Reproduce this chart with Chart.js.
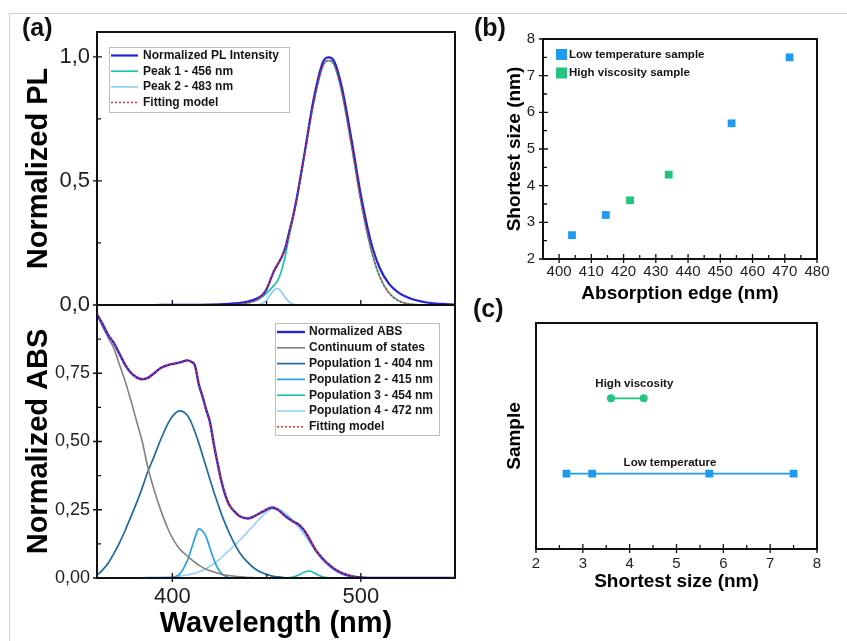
<!DOCTYPE html>
<html>
<head>
<meta charset="utf-8">
<script src="https://cdn.jsdelivr.net/npm/chart.js@4.4.0/dist/chart.umd.min.js"></script>
<style>
  body { margin: 0; width: 847px; height: 641px; overflow: hidden; background: #fff;
         font-family: 'Liberation Sans', Arial, sans-serif; }
  canvas { position: absolute; left: 0; top: 0; }
  .frame { position: absolute; left: 9px; top: 13px; width: 850px; height: 640px;
           border-top: 1px solid #cfcfcf; border-left: 1px solid #cfcfcf; }
  .tag { position: absolute; font-weight: bold; font-size: 25px; line-height: 1; color: #111; }
</style>
</head>
<body>
<div class="frame"></div>
<canvas id="plChart" width="847" height="641"></canvas>
<canvas id="absChart" width="847" height="641"></canvas>
<canvas id="edgeChart" width="847" height="641"></canvas>
<canvas id="sizeChart" width="847" height="641"></canvas>
<div class="tag" style="left:22px;top:15px">(a)</div>
<div class="tag" style="left:474px;top:15px">(b)</div>
<div class="tag" style="left:473px;top:296px">(c)</div>
<script>
// ---- (a) top: PL spectrum ----
const wlPL = [360, 370, 380, 390, 400, 410, 420, 425, 430, 435,
              440, 445, 448, 450, 452, 454, 456, 458, 460, 462,
              464, 466, 470, 475, 480, 483, 486, 490, 495, 500,
              505, 510, 515, 520, 525, 530, 535, 540, 545, 550];
const plIntensity = [0, 0, 0, 0, 0.001, 0.001, 0.002, 0.003, 0.005, 0.008,
                     0.014, 0.026, 0.042, 0.064, 0.1, 0.138, 0.165, 0.193, 0.232, 0.295,
                     0.356, 0.43, 0.605, 0.83, 0.98, 0.998, 0.98, 0.875, 0.67, 0.445,
                     0.265, 0.15, 0.085, 0.05, 0.03, 0.018, 0.01, 0.006, 0.004, 0.002];
const plPeak1 = [0, 0, 0, 0, 0, 0, 0, 0, 0.001, 0.003,
                 0.008, 0.02, 0.035, 0.048, 0.063, 0.08, 0.1, 0.14, 0.2, 0.28,
                 0.35, 0.425, 0.6, 0.815, 0.965, 0.985, 0.965, 0.855, 0.645, 0.42,
                 0.237, 0.115, 0.048, 0.017, 0.005, 0.001, 0, 0, 0, 0];
const plPeak2 = [0, 0, 0, 0, 0, 0, 0, 0, 0, 0,
                 0, 0.001, 0.007, 0.019, 0.041, 0.061, 0.066, 0.052, 0.029, 0.012,
                 0.004, 0.001, 0, 0, 0, 0, 0, 0, 0, 0,
                 0, 0, 0, 0, 0, 0, 0, 0, 0, 0];
const plFit = [0, 0, 0, 0, 0, 0, 0, 0, 0.001, 0.003,
               0.008, 0.021, 0.042, 0.067, 0.104, 0.141, 0.166, 0.192, 0.229, 0.292,
               0.354, 0.426, 0.6, 0.815, 0.965, 0.985, 0.965, 0.855, 0.645, 0.42,
               0.237, 0.115, 0.048, 0.017, 0.005, 0.001, 0, 0, 0, 0];
const plYTicks = [0, 0.5, 1.0];
const plYMinor = [0.25, 0.75];

// ---- (a) bottom: absorption spectrum ----
const wlAbs = [360, 363, 366, 369, 372, 375, 378, 381, 384, 387, 390,
               394, 398, 401, 404, 408,
               410, 412, 414, 416, 418, 420, 422, 424, 426, 428, 430,
               433, 436, 440, 444, 448, 453, 456, 460, 464, 467, 470, 473, 476, 479, 482, 486, 490, 495, 500,
               510, 520, 530, 540, 550];
const absNorm = [0.965, 0.93, 0.89, 0.86, 0.82, 0.78, 0.752, 0.735, 0.728, 0.733, 0.748,
                 0.77, 0.781, 0.785, 0.79, 0.797,
                 0.792, 0.778, 0.71, 0.665, 0.615, 0.57, 0.49, 0.42, 0.355, 0.305, 0.27,
                 0.243, 0.225, 0.218, 0.228, 0.243, 0.258, 0.25, 0.226, 0.207, 0.196, 0.174, 0.14, 0.103, 0.077, 0.055, 0.033, 0.018, 0.007, 0.002,
                 0, 0, 0, 0, 0];
const absContinuum = [0.965, 0.92, 0.88, 0.84, 0.78, 0.72, 0.65, 0.575, 0.5, 0.405, 0.33,
                      0.245, 0.175, 0.135, 0.105, 0.08,
                      0.068, 0.057, 0.047, 0.039, 0.032, 0.027, 0.022, 0.018, 0.014, 0.011, 0.009,
                      0.006, 0.004, 0.002, 0.001, 0, 0, 0, 0, 0, 0, 0, 0, 0, 0, 0, 0, 0, 0, 0,
                      0, 0, 0, 0, 0];
const absPop1 = [0.01, 0.03, 0.055, 0.09, 0.13, 0.175, 0.225, 0.275, 0.33, 0.39, 0.44,
                 0.51, 0.57, 0.6, 0.612, 0.595,
                 0.57, 0.535, 0.495, 0.45, 0.405, 0.36, 0.315, 0.275, 0.235, 0.2, 0.168,
                 0.125, 0.09, 0.057, 0.033, 0.018, 0.007, 0.004, 0.001, 0, 0, 0, 0, 0, 0, 0, 0, 0, 0, 0,
                 0, 0, 0, 0, 0];
const absPop2 = [0, 0, 0, 0, 0, 0, 0, 0, 0, 0, 0,
                 0, 0, 0.003, 0.015, 0.065,
                 0.105, 0.148, 0.18, 0.172, 0.15, 0.108, 0.068, 0.037, 0.017, 0.007, 0.002,
                 0, 0, 0, 0, 0, 0, 0, 0, 0, 0, 0, 0, 0, 0, 0, 0, 0, 0, 0,
                 0, 0, 0, 0, 0];
const absPop3 = [0, 0, 0, 0, 0, 0, 0, 0, 0, 0, 0,
                 0, 0, 0, 0, 0,
                 0, 0, 0, 0, 0, 0, 0, 0, 0, 0, 0,
                 0, 0, 0, 0, 0, 0, 0, 0, 0.003, 0.011, 0.022, 0.025, 0.016, 0.006, 0.0015, 0, 0, 0, 0,
                 0, 0, 0, 0, 0];
const absPop4 = [0, 0, 0, 0, 0, 0, 0, 0.001, 0.001, 0.002, 0.002,
                 0.003, 0.004, 0.005, 0.007, 0.011,
                 0.014, 0.018, 0.022, 0.028, 0.035, 0.043, 0.052, 0.063, 0.075, 0.088, 0.1,
                 0.12, 0.14, 0.17, 0.2, 0.228, 0.252, 0.252, 0.237, 0.21, 0.186, 0.158, 0.13, 0.098, 0.072, 0.05, 0.028, 0.013, 0.004, 0.001,
                 0, 0, 0, 0, 0];
const absFit = [0.963, 0.93, 0.89, 0.858, 0.82, 0.78, 0.752, 0.735, 0.729, 0.733, 0.747,
                0.77, 0.781, 0.786, 0.79, 0.796,
                0.791, 0.776, 0.712, 0.664, 0.617, 0.568, 0.492, 0.42, 0.356, 0.305, 0.27,
                0.243, 0.226, 0.219, 0.229, 0.244, 0.257, 0.25, 0.226, 0.207, 0.196, 0.174, 0.14, 0.104, 0.077, 0.055, 0.033, 0.018, 0.007, 0.002,
                0, 0, 0, 0, 0];
const absYTicks = [0, 0.25, 0.5, 0.75];
const absYMinor = [0.125, 0.375, 0.625, 0.875];
const wlTicks = [400, 500];
const wlMinor = [450];

// ---- (b) shortest size vs absorption edge ----
const lowTempEdge = [404, 414.5, 453.5, 471.5];
const lowTempSize = [2.65, 3.2, 5.7, 7.5];
const highViscEdge = [422, 434];
const highViscSize = [3.6, 4.3];
const edgeTicks = [400, 410, 420, 430, 440, 450, 460, 470, 480];
const edgeMinor = [405, 415, 425, 435, 445, 455, 465, 475];
const sizeTicks = [2, 3, 4, 5, 6, 7, 8];
const sizeMinor = [2.5, 3.5, 4.5, 5.5, 6.5, 7.5];

// ---- (c) sample rows ----
const sampleRows = ['', 'High viscosity', 'Low temperature', ''];

const FONT = "'Liberation Sans', Arial, sans-serif";
const BLUE_PT = '#1e9af0';
const GREEN_PT = '#22c47f';

Chart.defaults.font.family = FONT;
Chart.defaults.color = '#1e1e1e';

const pts = (xs, ys) => xs.map((x, i) => ({ x, y: ys[i] }));
const fixedWidth = w => s => { s.width = w; };
const fixedHeight = h => s => { s.height = h; };
const setTicks = list => s => { s.ticks = list.map(v => ({ value: v })); };
const comma = d => v => v.toFixed(d).replace('.', ',');

// box around the plot area plus small ticks, drawn above the curves
const frameTicks = {
  id: 'frameTicks',
  afterDatasetsDraw(chart, args, o) {
    const { ctx, chartArea: a } = chart;
    const sx = chart.scales.x, sy = chart.scales.y;
    const out = o.out === undefined ? 4 : o.out;
    ctx.save();
    ctx.strokeStyle = '#111';
    ctx.lineWidth = 1.3;
    ctx.beginPath();
    (o.xMajor || []).forEach(v => {
      const p = sx.getPixelForValue(v);
      ctx.moveTo(p, a.bottom + out); ctx.lineTo(p, a.bottom - 5);
    });
    (o.xMinor || []).forEach(v => {
      const p = sx.getPixelForValue(v);
      ctx.moveTo(p, a.bottom); ctx.lineTo(p, a.bottom - 4);
    });
    (o.yMajor || []).forEach(v => {
      const p = sy.getPixelForValue(v);
      ctx.moveTo(a.left - 4, p); ctx.lineTo(a.left + 5, p);
    });
    (o.yMinor || []).forEach(v => {
      const p = sy.getPixelForValue(v);
      ctx.moveTo(a.left, p); ctx.lineTo(a.left + 4, p);
    });
    ctx.stroke();
    ctx.lineWidth = 2;
    ctx.strokeRect(a.left, a.top, a.right - a.left, a.bottom - a.top);
    ctx.restore();
  }
};

// legend drawn inside the plot area
const insideLegend = {
  id: 'insideLegend',
  afterDraw(chart, args, o) {
    if (o.x === undefined) return;
    const ctx = chart.ctx;
    ctx.save();
    if (o.box) {
      ctx.fillStyle = '#fff';
      ctx.fillRect(o.x, o.y, o.w, o.h);
      ctx.strokeStyle = '#bdbdbd';
      ctx.lineWidth = 1;
      ctx.strokeRect(o.x + 0.5, o.y + 0.5, o.w, o.h);
    }
    ctx.font = 'bold ' + o.size + 'px ' + FONT;
    ctx.textBaseline = 'middle';
    chart.data.datasets.forEach((ds, i) => {
      const y = o.row0 + i * o.rowH;
      if (o.square) {
        ctx.fillStyle = ds.backgroundColor;
        ctx.fillRect(o.lineX0, y - o.square / 2, o.square, o.square);
      } else {
        ctx.strokeStyle = ds.borderColor;
        ctx.lineWidth = ds.borderWidth;
        ctx.setLineDash(ds.borderDash || []);
        ctx.beginPath();
        ctx.moveTo(o.lineX0, y);
        ctx.lineTo(o.lineX1, y);
        ctx.stroke();
        ctx.setLineDash([]);
      }
      ctx.fillStyle = '#151515';
      ctx.fillText(ds.label, o.textX, y);
    });
    ctx.restore();
  }
};

// row names written above the lines of panel (c)
const rowNotes = {
  id: 'rowNotes',
  afterDatasetsDraw(chart, args, o) {
    if (!o.items) return;
    const ctx = chart.ctx;
    ctx.save();
    ctx.font = 'bold 11.5px ' + FONT;
    ctx.fillStyle = '#151515';
    ctx.textAlign = 'center';
    ctx.textBaseline = 'middle';
    o.items.forEach(it => {
      const x = chart.scales.x.getPixelForValue(it.x);
      const y = chart.scales.y.getPixelForValue(sampleRows.indexOf(it.row)) + it.dy;
      ctx.fillText(it.row, x, y);
    });
    ctx.restore();
  }
};

const base = {
  responsive: false,
  devicePixelRatio: 1,
  animation: false,
  elements: { point: { radius: 0 }, line: { cubicInterpolationMode: 'monotone', fill: false } }
};
const noGrid = { display: false, drawTicks: false };
const bigTitle = text => ({ display: true, text, color: '#000',
                            font: { size: 29, weight: 'bold', lineHeight: 1 } });

// (a) top
new Chart(document.getElementById('plChart'), {
  type: 'line',
  data: {
    datasets: [
      { label: 'Normalized PL Intensity', data: pts(wlPL, plIntensity), borderColor: '#2424d4', borderWidth: 2.2, order: 2 },
      { label: 'Peak 1 - 456 nm', data: pts(wlPL, plPeak1), borderColor: '#1fbfb3', borderWidth: 1.7, order: 3 },
      { label: 'Peak 2 - 483 nm', data: pts(wlPL, plPeak2), borderColor: '#8ed0f3', borderWidth: 1.7, order: 4 },
      { label: 'Fitting model', data: pts(wlPL, plFit), borderColor: '#ef2b2b', borderWidth: 1.5, borderDash: [2, 2], order: 1 }
    ]
  },
  options: Object.assign({}, base, {
    layout: { padding: { left: 0, top: 32, right: 392, bottom: 336 } },
    scales: {
      x: { type: 'linear', min: 360, max: 550, grid: noGrid, border: { display: false },
           ticks: { display: false }, afterFit: fixedHeight(0) },
      y: { min: 0, max: 1.1, grid: noGrid, border: { display: false },
           afterBuildTicks: setTicks(plYTicks),
           ticks: { callback: comma(1), padding: 7, font: { size: 22, lineHeight: 1 } },
           title: Object.assign(bigTitle('Normalized PL'), { padding: { top: 24.5, bottom: 0 } }),
           afterFit: fixedWidth(97) }
    },
    plugins: {
      legend: { display: false }, tooltip: { enabled: false },
      frameTicks: { xMajor: wlTicks, xMinor: wlMinor, yMajor: plYTicks, yMinor: plYMinor, out: 0 },
      insideLegend: { x: 109, y: 47, w: 180, h: 65, box: true, size: 12, row0: 55.5, rowH: 15.7,
                      lineX0: 111, lineX1: 138, textX: 143 }
    }
  }),
  plugins: [frameTicks, insideLegend]
});

// (a) bottom
new Chart(document.getElementById('absChart'), {
  type: 'line',
  data: {
    datasets: [
      { label: 'Normalized ABS', data: pts(wlAbs, absNorm), borderColor: '#2424d4', borderWidth: 2.4, order: 2 },
      { label: 'Continuum of states', data: pts(wlAbs, absContinuum), borderColor: '#808080', borderWidth: 1.6, order: 3 },
      { label: 'Population 1 - 404 nm', data: pts(wlAbs, absPop1), borderColor: '#1f6aa5', borderWidth: 1.7, order: 4 },
      { label: 'Population 2 - 415 nm', data: pts(wlAbs, absPop2), borderColor: '#27a0e6', borderWidth: 1.7, order: 5 },
      { label: 'Population 3 - 454 nm', data: pts(wlAbs, absPop3), borderColor: '#1fbfb3', borderWidth: 1.7, order: 6 },
      { label: 'Population 4 - 472 nm', data: pts(wlAbs, absPop4), borderColor: '#9ad4f4', borderWidth: 1.7, order: 7 },
      { label: 'Fitting model', data: pts(wlAbs, absFit), borderColor: '#ef2b2b', borderWidth: 1.5, borderDash: [2, 2], order: 1 }
    ]
  },
  options: Object.assign({}, base, {
    layout: { padding: { left: 0, top: 305, right: 392, bottom: 0 } },
    scales: {
      x: { type: 'linear', min: 360, max: 550, grid: noGrid, border: { display: false },
           afterBuildTicks: setTicks(wlTicks),
           ticks: { padding: 8, font: { size: 22, lineHeight: 1 } },
           title: Object.assign(bigTitle('Wavelength (nm)'), { padding: { top: 0, bottom: 2.5 } }),
           afterFit: fixedHeight(63) },
      y: { min: 0, max: 1.0, grid: noGrid, border: { display: false },
           afterBuildTicks: setTicks(absYTicks),
           ticks: { callback: comma(2), padding: 7, font: { size: 18, lineHeight: 1 } },
           title: Object.assign(bigTitle('Normalized ABS'), { padding: { top: 24.5, bottom: 0 } }),
           afterFit: fixedWidth(97) }
    },
    plugins: {
      legend: { display: false }, tooltip: { enabled: false },
      frameTicks: { xMajor: wlTicks, xMinor: wlMinor, yMajor: absYTicks, yMinor: absYMinor },
      insideLegend: { x: 275, y: 323, w: 164, h: 112, box: true, size: 12, row0: 332, rowH: 15.8,
                      lineX0: 277, lineX1: 305, textX: 309 }
    }
  }),
  plugins: [frameTicks, insideLegend]
});

// (b)
const smallTitle = text => ({ display: true, text, color: '#000',
                              font: { size: 19, weight: 'bold', lineHeight: 1 } });
new Chart(document.getElementById('edgeChart'), {
  type: 'scatter',
  data: {
    datasets: [
      { label: 'Low temperature sample', data: pts(lowTempEdge, lowTempSize),
        backgroundColor: BLUE_PT, borderWidth: 0, pointStyle: 'rect', pointRadius: 5.5 },
      { label: 'High viscosity sample', data: pts(highViscEdge, highViscSize),
        backgroundColor: GREEN_PT, borderWidth: 0, pointStyle: 'rect', pointRadius: 5.5 }
    ]
  },
  options: {
    responsive: false, devicePixelRatio: 1, animation: false,
    layout: { padding: { left: 490, top: 39, right: 30, bottom: 322 } },
    scales: {
      x: { type: 'linear', min: 395, max: 480, grid: noGrid, border: { display: false },
           afterBuildTicks: setTicks(edgeTicks),
           ticks: { padding: 5, font: { size: 15, lineHeight: 1 } },
           title: Object.assign(smallTitle('Absorption edge (nm)'), { padding: { top: 0, bottom: 15.5 } }),
           afterFit: fixedHeight(60) },
      y: { min: 2, max: 8, grid: noGrid, border: { display: false },
           afterBuildTicks: setTicks(sizeTicks),
           ticks: { padding: 8, font: { size: 15, lineHeight: 1 } },
           title: Object.assign(smallTitle('Shortest size (nm)'), { padding: { top: 15.5, bottom: 0 } }),
           afterFit: fixedWidth(53) }
    },
    plugins: {
      legend: { display: false }, tooltip: { enabled: false },
      frameTicks: { xMajor: edgeTicks, xMinor: edgeMinor, yMajor: sizeTicks, yMinor: sizeMinor },
      insideLegend: { x: 556, square: 11, size: 11.5, row0: 54.5, rowH: 18.5, lineX0: 556, textX: 569 }
    }
  },
  plugins: [frameTicks, insideLegend]
});

// (c)
new Chart(document.getElementById('sizeChart'), {
  type: 'line',
  data: {
    datasets: [
      { label: 'Low temperature', data: lowTempSize.map(v => ({ x: v, y: 'Low temperature' })),
        borderColor: BLUE_PT, backgroundColor: BLUE_PT, borderWidth: 1.6,
        pointStyle: 'rect', pointRadius: 5.5, pointBorderWidth: 0 },
      { label: 'High viscosity', data: highViscSize.map(v => ({ x: v, y: 'High viscosity' })),
        borderColor: GREEN_PT, backgroundColor: GREEN_PT, borderWidth: 1.6,
        pointStyle: 'circle', pointRadius: 4, pointBorderWidth: 0 }
    ]
  },
  options: {
    responsive: false, devicePixelRatio: 1, animation: false,
    layout: { padding: { left: 490, top: 323, right: 30, bottom: 42 } },
    scales: {
      x: { type: 'linear', min: 2, max: 8, grid: noGrid, border: { display: false },
           afterBuildTicks: setTicks(sizeTicks),
           ticks: { padding: 7.5, font: { size: 15, lineHeight: 1 } },
           title: Object.assign(smallTitle('Shortest size (nm)'), { padding: { top: 0, bottom: 7.5 } }),
           afterFit: fixedHeight(50) },
      y: { type: 'category', labels: sampleRows, grid: noGrid, border: { display: false },
           ticks: { display: false },
           title: Object.assign(smallTitle('Sample'), { padding: { top: 15.5, bottom: 0 } }),
           afterFit: fixedWidth(46) }
    },
    plugins: {
      legend: { display: false }, tooltip: { enabled: false },
      frameTicks: { xMajor: sizeTicks, xMinor: sizeMinor },
      rowNotes: { items: [
        { row: 'High viscosity', x: 4.1, dy: -15 },
        { row: 'Low temperature', x: 4.86, dy: -11 }
      ] }
    }
  },
  plugins: [frameTicks, rowNotes]
});
</script>
</body>
</html>
